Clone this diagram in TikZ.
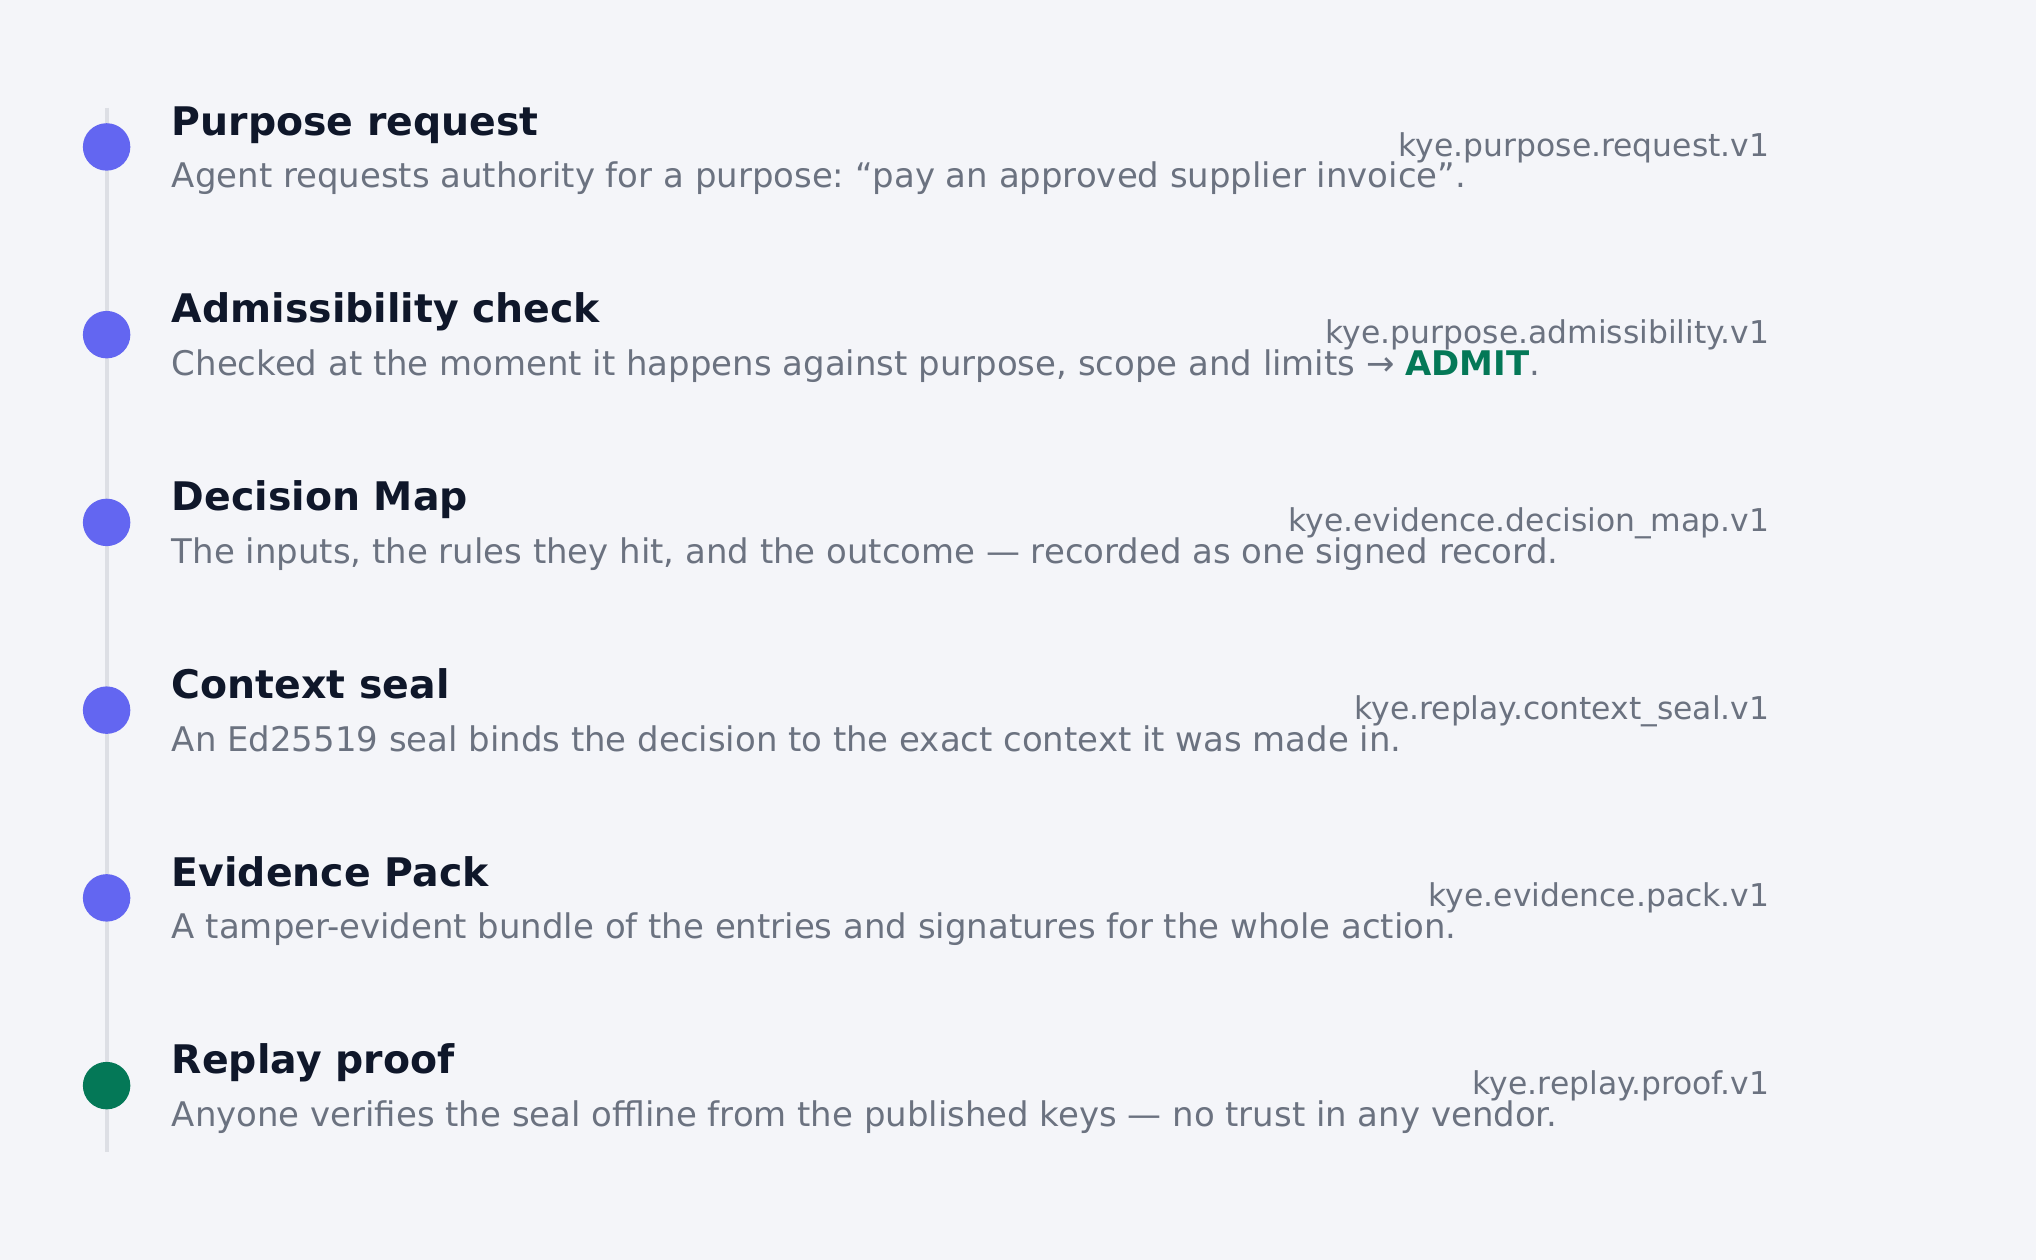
\documentclass[tikz,border=0pt]{standalone}
\usepackage{fontspec}
\setmainfont{DejaVu Sans}
\frenchspacing
\definecolor{bgcol}{HTML}{F4F5F9}
\definecolor{railcol}{HTML}{DDDFE5}
\definecolor{dotblue}{HTML}{6366F1}
\definecolor{dotgreen}{HTML}{047857}
\definecolor{titlecol}{HTML}{0F172A}
\definecolor{desccol}{HTML}{6B7280}
\tikzset{
  dotmark/.style={circle, fill=dotblue, draw=none, minimum size=36.5pt, inner sep=0pt},
  steptitle/.style={anchor=base west, inner sep=0pt, text=titlecol, font=\fontsize{30.3}{36}\selectfont\bfseries},
  stepdesc/.style={anchor=base west, inner sep=0pt, text=desccol, font=\fontsize{26.1}{31}\selectfont},
  steplabel/.style={anchor=base east, inner sep=0pt, text=desccol, font=\fontsize{24.15}{29}\selectfont},
  rail/.style={draw=railcol, line width=3pt}
}
\begin{document}
\begin{tikzpicture}[x=1pt,y=-1pt]
\fill[bgcol] (0,0) rectangle (1566,969.1);
\useasboundingbox (0,0) rectangle (1566,969.1);
\coordinate (railtop) at (82,83);
\coordinate (railbot) at (82,886);
\draw[rail] (railtop) -- (railbot);

% row 1
\node[dotmark] (d1) at (82,113) {};
\node[steptitle] (t1) at (132,104) {Purpose request};
\node[stepdesc] (s1) at (132,144.5) {Agent requests authority for a purpose: “pay an approved supplier invoice”.};
\node[steplabel] (l1) at (1361,120) {kye.purpose.request.v1};

% row 2
\node[dotmark] (d2) at (82,257.4) {};
\node[steptitle] (t2) at (132,248.4) {Admissibility check};
\node[stepdesc] (s2) at (132,288.9) {Checked at the moment it happens against purpose, scope and limits → \textcolor{dotgreen}{\bfseries ADMIT}.};
\node[steplabel] (l2) at (1361,264.4) {kye.purpose.admissibility.v1};

% row 3
\node[dotmark] (d3) at (82,401.8) {};
\node[steptitle] (t3) at (132,392.8) {Decision Map};
\node[stepdesc] (s3) at (132,433.3) {The inputs, the rules they hit, and the outcome — recorded as one signed record.};
\node[steplabel] (l3) at (1361,408.8) {kye.evidence.decision\_map.v1};

% row 4
\node[dotmark] (d4) at (82,546.2) {};
\node[steptitle] (t4) at (132,537.2) {Context seal};
\node[stepdesc] (s4) at (132,577.7) {An Ed25519 seal binds the decision to the exact context it was made in.};
\node[steplabel] (l4) at (1361,553.2) {kye.replay.context\_seal.v1};

% row 5
\node[dotmark] (d5) at (82,690.6) {};
\node[steptitle] (t5) at (132,681.6) {Evidence Pack};
\node[stepdesc] (s5) at (132,722.1) {A tamper-evident bundle of the entries and signatures for the whole action.};
\node[steplabel] (l5) at (1361,697.6) {kye.evidence.pack.v1};

% row 6
\node[dotmark, fill=dotgreen] (d6) at (82,835) {};
\node[steptitle] (t6) at (132,826) {Replay proof};
\node[stepdesc] (s6) at (132,866.5) {Anyone verifies the seal offline from the published keys — no trust in any vendor.};
\node[steplabel] (l6) at (1361,842) {kye.replay.proof.v1};
\end{tikzpicture}
\end{document}
